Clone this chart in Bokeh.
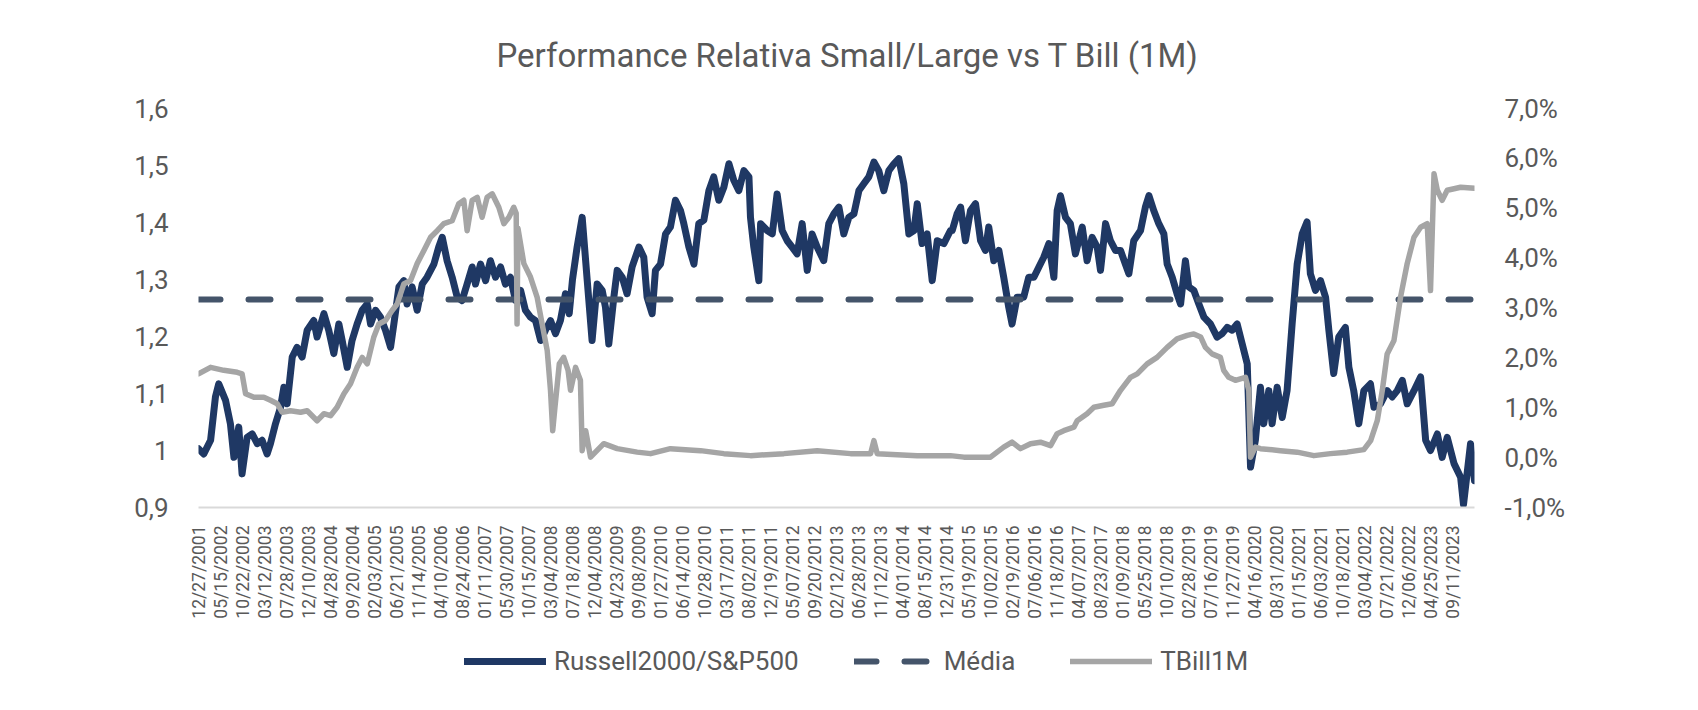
import math
from bokeh.plotting import figure
from bokeh.layouts import column
from bokeh.models import Range1d, LinearAxis, FixedTicker, Legend, LegendItem, Title
from bokeh.embed import file_html
from bokeh.resources import INLINE

TITLE = "Performance Relativa Small/Large vs T Bill (1M)"

date_labels = [
    "12/27/2001", "05/15/2002", "10/22/2002", "03/12/2003", "07/28/2003", "12/10/2003",
    "04/28/2004", "09/20/2004", "02/03/2005", "06/21/2005", "11/14/2005", "04/10/2006",
    "08/24/2006", "01/11/2007", "05/30/2007", "10/15/2007", "03/04/2008", "07/18/2008",
    "12/04/2008", "04/23/2009", "09/08/2009", "01/27/2010", "06/14/2010", "10/28/2010",
    "03/17/2011", "08/02/2011", "12/19/2011", "05/07/2012", "09/20/2012", "02/12/2013",
    "06/28/2013", "11/12/2013", "04/01/2014", "08/15/2014", "12/31/2014", "05/19/2015",
    "10/02/2015", "02/19/2016", "07/06/2016", "11/18/2016", "04/07/2017", "08/23/2017",
    "01/09/2018", "05/25/2018", "10/10/2018", "02/28/2019", "07/16/2019", "11/27/2019",
    "04/16/2020", "08/31/2020", "01/15/2021", "06/03/2021", "10/18/2021", "03/04/2022",
    "07/21/2022", "12/06/2022", "04/25/2023", "09/11/2023",
]

# period position (one unit = one category label interval)
ratio_t = [
    0.0, 0.24, 0.55, 0.77, 0.92, 1.23, 1.45, 1.61, 1.83, 1.98, 2.21, 2.44, 2.67, 2.89,
    3.12, 3.27, 3.5, 3.73, 3.88, 4.03, 4.26, 4.48, 4.71, 4.94, 5.24, 5.39, 5.70, 5.92,
    6.15, 6.38, 6.53, 6.76, 6.98, 7.21, 7.44, 7.67, 7.82, 8.05, 8.27, 8.5, 8.73, 8.88,
    9.11, 9.33, 9.48, 9.71, 9.94, 10.17, 10.39, 10.70, 10.92, 11.08, 11.30, 11.53, 11.76,
    11.98, 12.21, 12.44, 12.59, 12.82, 13.05, 13.27, 13.5, 13.73, 13.95, 14.18, 14.41,
    14.64, 14.86, 15.09, 15.32, 15.55, 15.77, 16.0, 16.23, 16.45, 16.68, 16.85, 17.0,
    17.21, 17.44, 17.67, 17.89, 18.12, 18.35, 18.5, 18.65, 18.88, 19.03, 19.26, 19.48,
    19.71, 20.02, 20.24, 20.39, 20.62, 20.77, 21.0, 21.23, 21.45, 21.68, 21.91, 22.06,
    22.29, 22.52, 22.74, 22.97, 23.2, 23.42, 23.65, 23.88, 24.11, 24.33, 24.56, 24.79,
    25.02, 25.09, 25.24, 25.47, 25.55, 25.85, 26.08, 26.3, 26.53, 26.76, 26.98, 27.21,
    27.44, 27.67, 27.89, 28.12, 28.42, 28.65, 28.88, 29.11, 29.33, 29.56, 29.79, 30.02,
    30.24, 30.47, 30.7, 30.92, 31.15, 31.38, 31.61, 31.83, 32.06, 32.29, 32.52, 32.67,
    32.89, 33.12, 33.35, 33.58, 33.88, 34.18, 34.26, 34.48, 34.64, 34.86, 35.09, 35.32,
    35.55, 35.77, 35.92, 36.15, 36.38, 36.6, 36.83, 36.98, 37.21, 37.51, 37.74, 37.97,
    38.2, 38.42, 38.65, 38.88, 39.03, 39.18, 39.41, 39.63, 39.86, 40.17, 40.39, 40.62,
    40.85, 41.0, 41.23, 41.45, 41.68, 41.91, 42.13, 42.29, 42.51, 42.82, 43.04, 43.2,
    43.42, 43.65, 43.88, 44.03, 44.26, 44.48, 44.64, 44.86, 45.01, 45.24, 45.47, 45.7,
    46.0, 46.3, 46.53, 46.76, 46.98, 47.21, 47.44, 47.67, 47.82, 48.04, 48.27, 48.42,
    48.65, 48.8, 49.03, 49.26, 49.48, 49.71, 49.94, 50.17, 50.39, 50.54, 50.77, 51.0,
    51.23, 51.38, 51.6, 51.83, 52.13, 52.29, 52.51, 52.74, 52.97, 53.27, 53.43, 53.73,
    54.03, 54.26, 54.49, 54.72, 54.94, 55.25, 55.55, 55.78, 56.0, 56.31, 56.53, 56.76,
    57.07, 57.37, 57.5, 57.82, 58.0,
]
ratio_v = [
    1.003, 0.994, 1.018, 1.094, 1.117, 1.088, 1.047, 0.988, 1.041, 0.959, 1.023, 1.029, 1.012, 1.018,
    0.994, 1.012, 1.047, 1.076, 1.111, 1.082, 1.164, 1.181, 1.164, 1.211, 1.228, 1.199, 1.240, 1.211,
    1.170, 1.222, 1.193, 1.146, 1.193, 1.222, 1.246, 1.257, 1.222, 1.246, 1.234, 1.211, 1.181, 1.222,
    1.287, 1.298, 1.257, 1.287, 1.246, 1.292, 1.304, 1.327, 1.357, 1.374, 1.333, 1.304, 1.269,
    1.263, 1.292, 1.322, 1.292, 1.327, 1.298, 1.333, 1.304, 1.322, 1.292, 1.304, 1.263,
    1.281, 1.246, 1.234, 1.228, 1.193, 1.211, 1.228, 1.205, 1.228, 1.275, 1.240, 1.300,
    1.357, 1.409, 1.298, 1.193, 1.292, 1.281, 1.251, 1.187, 1.269, 1.316, 1.304, 1.275,
    1.322, 1.357, 1.339, 1.269, 1.240, 1.316, 1.327, 1.380, 1.392, 1.439, 1.421, 1.398,
    1.357, 1.327, 1.398, 1.404, 1.456, 1.480, 1.439, 1.462, 1.503, 1.474, 1.456, 1.491,
    1.480, 1.409, 1.357, 1.298, 1.398, 1.386, 1.380, 1.450, 1.386, 1.368, 1.357, 1.345,
    1.398, 1.316, 1.380, 1.357, 1.333, 1.398, 1.415, 1.427, 1.380, 1.409, 1.415, 1.456,
    1.468, 1.480, 1.506, 1.491, 1.456, 1.491, 1.503, 1.512, 1.468, 1.380, 1.386, 1.433,
    1.363, 1.380, 1.298, 1.368, 1.363, 1.386, 1.386, 1.415, 1.427, 1.368, 1.421, 1.433,
    1.368, 1.351, 1.392, 1.333, 1.351, 1.304, 1.251, 1.222, 1.269, 1.269, 1.304, 1.304,
    1.322, 1.339, 1.363, 1.304, 1.421, 1.447, 1.409, 1.398, 1.345, 1.392, 1.333, 1.374,
    1.357, 1.316, 1.398, 1.368, 1.351, 1.351, 1.327, 1.310, 1.368, 1.386, 1.427, 1.447,
    1.421, 1.398, 1.380, 1.327, 1.304, 1.275, 1.257, 1.333, 1.287, 1.281, 1.257, 1.234,
    1.222, 1.199, 1.205, 1.216, 1.211, 1.222, 1.187, 1.152, 0.971, 1.018, 1.111, 1.047,
    1.105, 1.047, 1.111, 1.058, 1.105, 1.222, 1.327, 1.380, 1.401, 1.310, 1.281, 1.298,
    1.269, 1.211, 1.135, 1.199, 1.216, 1.146, 1.105, 1.047, 1.105, 1.117, 1.076, 1.082,
    1.105, 1.094, 1.105, 1.123, 1.082, 1.105, 1.129, 1.018, 1.000, 1.029, 0.988, 1.023,
    0.977, 0.953, 0.905, 1.012, 0.947,
]

tbill_t = [
    0.0, 0.55, 1.15, 1.76, 1.98, 2.14, 2.52, 2.97, 3.27, 3.58, 3.80, 4.18, 4.64, 4.94, 5.39,
    5.70, 6.00, 6.30, 6.61, 6.91, 7.21, 7.44, 7.67, 7.97, 8.20, 8.50, 8.80, 9.03, 9.33, 9.64,
    9.94, 10.24, 10.55, 10.85, 11.15, 11.53, 11.83, 12.06, 12.21, 12.44, 12.67, 12.89, 13.12,
    13.35, 13.65, 13.88, 14.11, 14.33, 14.44, 14.48, 14.52, 14.79, 15.09, 15.39, 15.62, 15.85,
    16.00, 16.10, 16.20, 16.40, 16.60, 16.80, 16.91, 17.14, 17.36, 17.44, 17.60, 17.82, 18.42,
    19.03, 19.94, 20.55, 21.45, 22.82, 23.88, 25.09, 26.61, 28.12, 29.64, 30.55, 30.70, 30.85,
    32.67, 34.18, 34.79, 36.00, 36.30, 36.60, 36.98, 37.36, 37.82, 38.27, 38.73, 39.03, 39.33,
    39.79, 39.94, 40.39, 40.70, 41.15, 41.53, 41.91, 42.36, 42.67, 43.12, 43.57, 44.03, 44.48,
    44.94, 45.24, 45.55, 45.77, 46.07, 46.45, 46.60, 46.83, 47.13, 47.59, 47.74, 47.82, 48.04,
    48.27, 49.18, 49.94, 50.70, 51.45, 52.21, 52.97, 53.28, 53.58, 53.81, 54.03, 54.34, 54.64,
    54.94, 55.25, 55.55, 55.85, 56.00, 56.16, 56.31, 56.53, 56.76, 57.07, 57.37, 58.00,
]
tbill_v = [
    1.68, 1.81, 1.75, 1.71, 1.68, 1.28, 1.21, 1.21, 1.15, 1.08, 0.91, 0.94, 0.91, 0.94, 0.74,
    0.88, 0.84, 1.01, 1.28, 1.48, 1.81, 2.01, 1.88, 2.42, 2.68, 2.75, 2.95, 3.08, 3.48, 3.55,
    3.89, 4.15, 4.42, 4.55, 4.69, 4.75, 5.09, 5.16, 4.55, 5.16, 5.22, 4.82, 5.22,
    5.29, 5.02, 4.69, 4.82, 5.02, 4.90, 2.68, 4.60, 3.89, 3.62, 3.22, 2.68, 2.15,
    1.35, 0.54, 1.00, 1.88, 2.01, 1.75, 1.35, 1.81, 1.55, 0.14, 0.54, 0.01, 0.28,
    0.18, 0.11, 0.08, 0.18, 0.14, 0.08, 0.04, 0.08, 0.14, 0.08, 0.08, 0.34, 0.08,
    0.04, 0.04, 0.01, 0.01, 0.11, 0.21, 0.31, 0.18, 0.28, 0.31, 0.24, 0.48, 0.54,
    0.61, 0.74, 0.88, 1.01, 1.05, 1.08, 1.35, 1.61, 1.68, 1.88, 2.01, 2.21, 2.38,
    2.45, 2.48, 2.42, 2.21, 2.08, 2.01, 1.75, 1.61, 1.55, 1.61, 1.35, 0.01, 0.21,
    0.18, 0.14, 0.11, 0.04, 0.08, 0.11, 0.16, 0.34, 0.74, 1.35, 2.08, 2.35, 3.22,
    3.89, 4.42, 4.62, 4.69, 3.35, 5.69, 5.36, 5.16, 5.36, 5.39, 5.42, 5.40,
]

media_value = 1.265
media_t = [0.0, 58.0]

left_ticks = [0.9, 1.0, 1.1, 1.2, 1.3, 1.4, 1.5, 1.6]
left_tick_labels = ["0,9", "1", "1,1", "1,2", "1,3", "1,4", "1,5", "1,6"]
right_ticks = [-1, 0, 1, 2, 3, 4, 5, 6, 7]
right_tick_labels = ["-1,0%", "0,0%", "1,0%", "2,0%", "3,0%", "4,0%", "5,0%", "6,0%", "7,0%"]
series_names = ["Russell2000/S&P500", "Média", "TBill1M"]

FONT = "Roboto"
TXT = "#595959"
NAVY = "#1F3864"
DASH = "#44546A"
GREY = "#A5A5A5"

MAIN_H = 640
LEG_H = 54

p = figure(width=1682, height=MAIN_H, output_backend="svg", toolbar_location=None,
           x_range=Range1d(0, 58), y_range=Range1d(0.9, 1.6),
           min_border_left=198, min_border_right=208, min_border_top=108,
           min_border_bottom=MAIN_H - 507)
p.extra_y_ranges = {"pct": Range1d(-1, 7)}
p.outline_line_color = None
p.xgrid.visible = False
p.ygrid.visible = False
p.background_fill_color = "white"
p.border_fill_color = "white"

xa = p.xaxis[0]
xa.ticker = FixedTicker(ticks=list(range(len(date_labels))))
xa.major_label_overrides = {i: s for i, s in enumerate(date_labels)}
xa.major_label_orientation = math.pi / 2
xa.axis_line_color = "#D9D9D9"
xa.axis_line_width = 2
xa.major_tick_line_color = None
xa.minor_tick_line_color = None
xa.major_label_standoff = 12
xa.major_label_text_font = FONT
xa.major_label_text_font_size = "17.5px"
xa.major_label_text_color = TXT

ya = p.yaxis[0]
ya.ticker = FixedTicker(ticks=left_ticks)
ya.major_label_overrides = {v: s for v, s in zip(left_ticks, left_tick_labels)}
ya.axis_line_color = None
ya.major_tick_line_color = None
ya.minor_tick_line_color = None
ya.major_label_standoff = 24
ya.major_label_text_font = FONT
ya.major_label_text_font_size = "26px"
ya.major_label_text_color = TXT

ra = LinearAxis(y_range_name="pct")
ra.ticker = FixedTicker(ticks=right_ticks)
ra.major_label_overrides = {v: s for v, s in zip(right_ticks, right_tick_labels)}
ra.axis_line_color = None
ra.major_tick_line_color = None
ra.minor_tick_line_color = None
ra.major_label_standoff = 24
ra.major_label_text_font = FONT
ra.major_label_text_font_size = "26px"
ra.major_label_text_color = TXT
p.add_layout(ra, "right")

line_styles = [
    dict(line_color=NAVY, line_width=7, line_join="round", line_cap="round"),
    dict(line_color=DASH, line_width=6, line_dash="22 28", line_cap="round"),
    dict(line_color=GREY, line_width=5.5, line_join="round", line_cap="round"),
]

p.line(ratio_t, ratio_v, **line_styles[0])
p.line(media_t, [media_value] * len(media_t), **line_styles[1])
p.line(tbill_t, tbill_v, y_range_name="pct", **line_styles[2])

title = Title(text=TITLE, align="left", vertical_align="top", text_font=FONT,
              text_font_size="33px", text_color=TXT, text_font_style="normal",
              standoff=64, offset=298)
p.add_layout(title, "above")

# legend strip below the chart: same series, plotted outside its visible y window
q = figure(width=1682, height=LEG_H, output_backend="svg", toolbar_location=None,
           x_range=Range1d(0, 58), y_range=Range1d(10, 11), min_border=0,
           x_axis_location=None, y_axis_location=None)
q.outline_line_color = None
q.xgrid.visible = False
q.ygrid.visible = False
q.border_fill_color = "white"
legend_renderers = [
    q.line(ratio_t, ratio_v, **line_styles[0]),
    q.line(media_t, [media_value] * len(media_t), **line_styles[1]),
    q.line(tbill_t, tbill_v, **line_styles[2]),
]

legend = Legend(items=[LegendItem(label=n, renderers=[r]) for n, r in zip(series_names, legend_renderers)],
                orientation="horizontal", location=(266, 18), glyph_width=82, glyph_height=30,
                label_height=30, label_standoff=8, spacing=55, padding=0, margin=0,
                border_line_color=None, background_fill_alpha=0,
                label_text_font=FONT, label_text_font_size="26px", label_text_color=TXT)
q.add_layout(legend, "center")

layout = column(p, q, spacing=0)
open("out.html", "w").write(file_html(layout, INLINE))
